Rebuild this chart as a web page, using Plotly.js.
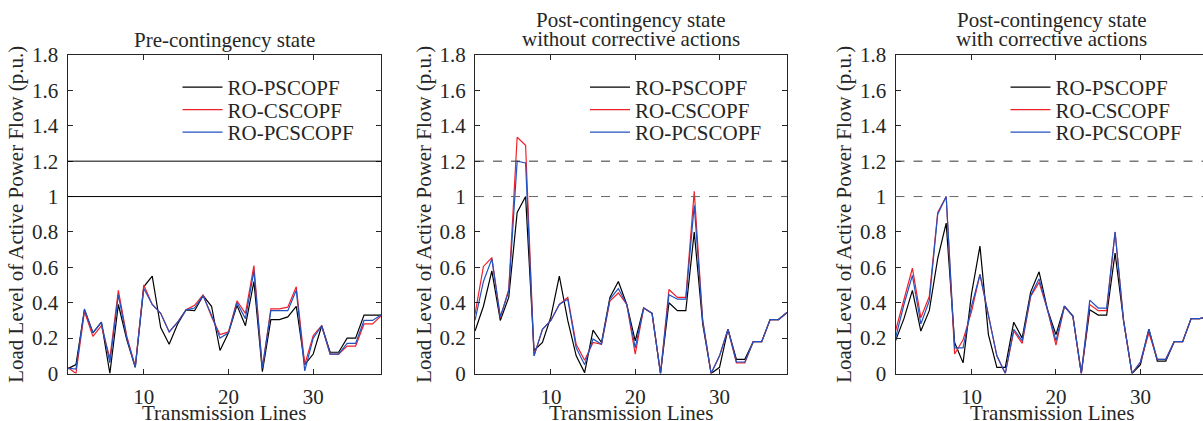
<!DOCTYPE html>
<html>
<head>
<meta charset="utf-8">
<script src="https://cdn.plot.ly/plotly-3.0.1.min.js"></script>
<style>
html,body{margin:0;padding:0;overflow:hidden;background:#fff;}
#chart{width:1210px;height:421px;}
</style>
</head>
<body>
<div id="chart"></div>
<script>
// Transmission line indices
const lines = Array.from({length: 38}, (_, i) => i + 1);

// Series names
const seriesNames = ["RO-PSCOPF", "RO-CSCOPF", "RO-PCSCOPF"];

// Panel titles and axis titles
const panelTitles = [
  ["Pre-contingency state"],
  ["Post-contingency state", "without corrective actions"],
  ["Post-contingency state", "with corrective actions"]
];
const xTitle = "Transmission Lines";
const yTitle = "Load Level of Active Power Flow (p.u.)";

// Limits drawn as reference lines
const limits = [1.0, 1.2];

// Pre-contingency state
const preRO_PSCOPF  = [0.026,0.05,0.36,0.23,0.29,0.0,0.39,0.19,0.035,0.49,0.55,0.26,0.165,0.28,0.36,0.355,0.44,0.38,0.13,0.23,0.385,0.27,0.52,0.01,0.305,0.305,0.32,0.38,0.05,0.11,0.27,0.12,0.12,0.2,0.2,0.33,0.33,0.33];
const preRO_CSCOPF  = [0.035,0.0,0.35,0.21,0.27,0.085,0.47,0.21,0.04,0.5,0.39,0.34,0.235,0.29,0.36,0.385,0.445,0.32,0.22,0.235,0.41,0.34,0.61,0.03,0.365,0.365,0.375,0.49,0.05,0.215,0.27,0.11,0.11,0.155,0.155,0.28,0.28,0.325];
const preRO_PCSCOPF = [0.03,0.025,0.365,0.23,0.29,0.06,0.445,0.2,0.035,0.48,0.39,0.34,0.235,0.29,0.36,0.37,0.44,0.33,0.2,0.23,0.40,0.31,0.58,0.03,0.355,0.355,0.355,0.47,0.015,0.20,0.27,0.11,0.11,0.17,0.17,0.30,0.30,0.33];

// Post-contingency state without corrective actions
const postNoRO_PSCOPF  = [0.24,0.38,0.58,0.30,0.43,0.91,1.0,0.13,0.175,0.32,0.55,0.30,0.10,0.005,0.245,0.175,0.43,0.52,0.39,0.185,0.37,0.34,0.0,0.40,0.355,0.355,0.80,0.28,0.0,0.035,0.25,0.08,0.08,0.18,0.18,0.305,0.305,0.345];
const postNoRO_CSCOPF  = [0.335,0.605,0.655,0.315,0.475,1.335,1.29,0.10,0.25,0.30,0.39,0.43,0.165,0.075,0.175,0.165,0.41,0.455,0.39,0.11,0.37,0.34,0.0,0.475,0.43,0.43,1.03,0.30,0.0,0.10,0.25,0.06,0.06,0.18,0.18,0.305,0.305,0.345];
const postNoRO_PCSCOPF = [0.30,0.52,0.648,0.32,0.465,1.20,1.19,0.10,0.25,0.30,0.39,0.42,0.145,0.05,0.195,0.165,0.42,0.48,0.39,0.145,0.37,0.34,0.0,0.445,0.42,0.42,0.95,0.30,0.0,0.10,0.25,0.065,0.065,0.18,0.18,0.305,0.305,0.345];

// Post-contingency state with corrective actions
const postWithRO_PSCOPF  = [0.185,0.31,0.47,0.24,0.355,0.65,0.85,0.175,0.06,0.45,0.72,0.22,0.035,0.035,0.29,0.2,0.46,0.575,0.36,0.22,0.38,0.325,0.0,0.36,0.33,0.33,0.68,0.3,0.0,0.05,0.25,0.07,0.07,0.18,0.18,0.31,0.31,0.32];
const postWithRO_CSCOPF  = [0.24,0.41,0.595,0.315,0.435,0.91,1.0,0.11,0.19,0.35,0.56,0.33,0.10,0.0,0.24,0.17,0.435,0.515,0.36,0.16,0.38,0.325,0.0,0.39,0.355,0.355,0.80,0.3,0.0,0.065,0.23,0.08,0.08,0.18,0.18,0.31,0.31,0.32];
const postWithRO_PCSCOPF = [0.20,0.39,0.555,0.28,0.41,0.90,1.0,0.145,0.145,0.38,0.56,0.33,0.10,0.0,0.25,0.185,0.44,0.535,0.36,0.185,0.38,0.325,0.0,0.415,0.37,0.37,0.80,0.3,0.0,0.065,0.25,0.08,0.08,0.18,0.18,0.31,0.31,0.32];

const panels = [
  [preRO_PSCOPF, preRO_CSCOPF, preRO_PCSCOPF],
  [postNoRO_PSCOPF, postNoRO_CSCOPF, postNoRO_PCSCOPF],
  [postWithRO_PSCOPF, postWithRO_CSCOPF, postWithRO_PCSCOPF]
];

const colors = ["#000000", "#f0202a", "#2152c0"];
const W = 1210, H = 421;
const FONT = "Liberation Serif, Times New Roman, serif";
const FS = 21;
const TXT = "#262626";

// pixel geometry of plot areas
const xPix = [[67.5, 381], [475, 787], [895.5, 1208]];
const yTop = 55, yBot = 373.5;
const legendRowsY = [87.5, 110, 132.5];

const traces = [];
panels.forEach((series, p) => {
  series.forEach((vals, s) => {
    const n = p * 3 + s + 1;
    traces.push({
      x: lines, y: vals, type: "scatter", mode: "lines",
      name: seriesNames[s],
      line: {color: colors[s], width: 1.2},
      xaxis: p === 0 ? "x" : "x" + (p + 1),
      yaxis: p === 0 ? "y" : "y" + (p + 1),
      legend: n === 1 ? "legend" : "legend" + n,
      showlegend: true
    });
  });
});

const layout = {
  width: W, height: H,
  margin: {l: 0, r: 0, t: 0, b: 0},
  paper_bgcolor: "#fff", plot_bgcolor: "#fff",
  font: {family: FONT, size: FS, color: TXT},
  showlegend: true,
  shapes: [], annotations: []
};

for (let p = 0; p < 3; p++) {
  const xa = p === 0 ? "xaxis" : "xaxis" + (p + 1);
  const ya = p === 0 ? "yaxis" : "yaxis" + (p + 1);
  const xr = p === 0 ? "x" : "x" + (p + 1);
  const yr = p === 0 ? "y" : "y" + (p + 1);
  layout[xa] = {
    domain: [xPix[p][0] / W, xPix[p][1] / W],
    anchor: yr, range: [1, 38],
    tickvals: [10, 20, 30], ticks: "inside", ticklen: 5, tickcolor: TXT,
    showline: true, mirror: "ticks", linecolor: TXT, linewidth: 1,
    showgrid: false, zeroline: false,
    tickfont: {size: FS, family: FONT, color: TXT},
    ticklabelstandoff: 4
  };
  layout[ya] = {
    domain: [(H - yBot) / H, (H - yTop) / H],
    anchor: xr, range: [0, 1.8], dtick: 0.2, tick0: 0,
    ticks: "inside", ticklen: 5, tickcolor: TXT,
    showline: true, mirror: "ticks", linecolor: TXT, linewidth: 1,
    showgrid: false, zeroline: false,
    tickfont: {size: FS, family: FONT, color: TXT},
    ticklabelstandoff: 4,
    title: {text: yTitle, standoff: 2, font: {size: FS, family: FONT, color: TXT}}
  };
  // limit lines
  limits.forEach((lim, k) => {
    layout.shapes.push({
      type: "line", xref: xr + " domain", yref: yr,
      x0: 0, x1: 1, y0: lim, y1: lim,
      line: p === 0 ? {color: "#000", width: 1} :
                      {color: k === 0 ? "#666" : "#333", width: 1, dash: "dash"}
    });
  });
  // panel titles
  const t = panelTitles[p];
  const cx = (xPix[p][0] + xPix[p][1]) / 2 / W;
  const tys = t.length === 1 ? [40] : [20, 39];
  t.forEach((line, i) => {
    layout.annotations.push({text: line, xref: "paper", yref: "paper", x: cx, y: (H - tys[i]) / H,
      xanchor: "center", yanchor: "middle", showarrow: false, font: {size: FS, family: FONT, color: TXT}});
  });
  // x-axis title (placed as in the reference, partly below the frame)
  layout.annotations.push({text: xTitle, xref: xr + " domain", yref: "paper", x: 0.5, y: (H - 413) / H,
    xanchor: "center", yanchor: "middle", showarrow: false, font: {size: FS, family: FONT, color: TXT}});
  // legends: one per entry so rows can sit as in the reference
  for (let s = 0; s < 3; s++) {
    const n = p * 3 + s + 1;
    const lg = n === 1 ? "legend" : "legend" + n;
    layout[lg] = {
      x: (xPix[p][0] + 110) / W, y: (H - legendRowsY[s]) / H,
      xref: "paper", yref: "paper", xanchor: "left", yanchor: "middle",
      bgcolor: "rgba(0,0,0,0)", borderwidth: 0,
      font: {size: FS, family: FONT, color: TXT},
      itemwidth: 40, tracegroupgap: 0
    };
  }
}

Plotly.newPlot("chart", traces, layout, {staticPlot: true});
</script>
</body>
</html>
